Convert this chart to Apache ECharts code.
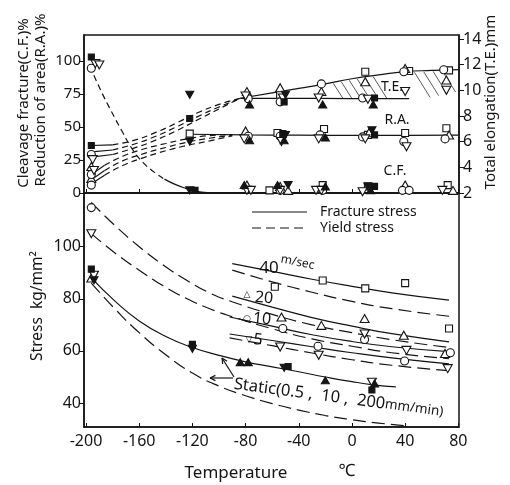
<!DOCTYPE html>
<html>
<head>
<meta charset="utf-8">
<script src="https://cdn.jsdelivr.net/npm/echarts@6/dist/echarts.min.js"></script>
<style>
  html, body { margin: 0; padding: 0; background: #fff; }
  #chart { width: 510px; height: 485px; }
</style>
</head>
<body>
<div id="chart"></div>
<script>
// ---- axis ticks ----
const tempTicks   = [-200, -160, -120, -80, -40, 0, 40, 80];
const pctTicks    = [0, 25, 50, 75, 100];
const mmTicks     = [2, 4, 6, 8, 10, 12, 14];
const stressTicks = [40, 60, 80, 100];

// ---- upper panel: cleavage fracture (%) by marker ----
const cfSq   = [[-62, 2], [-22, 6], [12, 5], [72, 6]];
const cfTri  = [[-79, 6], [-54, 5], [-48, 2], [40, 6], [76, 2]];
const cfCir  = [[-196, 94.5], [-54, 2], [-22, 2], [38, 2], [43, 2]];
const cfInv  = [[-193, 98], [-190, 97], [-79, 2], [-76, 2], [-54, 2], [-27, 2], [-23, 2], [8, 1], [68, 2]];
const cfSqF  = [[-196, 103], [-118, 2], [17, 5]];
const cfTriF = [[-81, 6], [-56, 6], [-20, 5], [14, 2]];
const cfInvF = [[-122, 2], [-48, 6], [12, 5]];

// ---- upper panel: reduction of area (%) by marker ----
const raSq   = [[-122, 45], [-56, 45.5], [-21, 48.5], [12, 44], [40, 45.5], [71, 49]];
const raTri  = [[-196, 20], [-196, 11], [-80, 47], [-22, 43], [13, 46], [73, 44]];
const raCir  = [[-196, 14], [-196, 6], [-78, 43], [-54, 43], [-24, 44], [8, 42.5], [39, 39], [70, 41]];
const raInv  = [[-194, 17], [-81, 41], [-53, 39], [-25, 41], [10, 41], [41, 35]];
const raTriF = [[-77, 40], [-51, 40], [-20, 42]];
const raInvF = [[-122, 39], [-50, 44], [15, 47.5]];
const raSqF  = [[-52, 45], [17, 44]];

// ---- upper panel: total elongation (mm) by marker ----
const teSq   = [[-54, 9.65], [10, 11.45], [43, 11.5], [73, 11.55]];
const teTri  = [[-79, 9.9], [-54, 10.2], [-23, 9.9], [10, 10.67], [40, 11.7], [71, 10.8]];
const teCir  = [[-196, 5.0], [-78, 9.35], [-54, 9.1], [-23, 10.5], [8, 9.4], [39, 11.45], [69, 11.6]];
const teInv  = [[-195, 4.6], [-80, 9.55], [-52, 9.4], [-25, 9.4], [12, 9.3], [40, 9.9], [71, 10.0]];
const teSqF  = [[-196, 5.7], [-122, 7.8], [-51, 9.1], [17, 9.4]];
const teTriF = [[-77, 8.9], [-22, 8.9], [16, 8.9]];
const teInvF = [[-122, 9.65], [-50, 9.65]];

// ---- upper panel curves ----
const cfCurve  = [[-197, 96], [-189, 78], [-181, 62], [-173, 47], [-165, 33], [-157, 23], [-149, 16], [-141, 10.5], [-133, 6.5], [-125, 3.5], [-117, 1.2], [-109, 0.3]];
const raCurve1 = [[-196, 14], [-186, 21], [-172, 28], [-156, 33.5], [-140, 37.5], [-124, 41], [-107, 43.5], [-90, 44.3]];
const raCurve2 = [[-196, 10], [-186, 17], [-172, 24.5], [-156, 30], [-140, 34.5], [-124, 38.5], [-107, 41.5], [-90, 43.8]];
const raCurve3 = [[-196, 7], [-186, 13.5], [-172, 21], [-156, 27], [-140, 32], [-124, 36], [-107, 39.5], [-90, 43.3]];
const raFlat   = [[-122, 44.5], [-80, 44], [-40, 43.8], [0, 43.7], [40, 43.7], [80, 43.8]];
const teCurve1 = [[-196, 5.7], [-180, 5.75], [-164, 6.1], [-148, 6.7], [-132, 7.45], [-116, 8.25], [-100, 8.9], [-84, 9.38]];
const teCurve2 = [[-196, 5.2], [-180, 5.35], [-164, 5.8], [-148, 6.4], [-132, 7.15], [-116, 7.95], [-100, 8.7], [-84, 9.38]];
const teCurve3 = [[-196, 4.8], [-180, 5.0], [-164, 5.5], [-148, 6.1], [-132, 6.85], [-116, 7.7], [-100, 8.55], [-84, 9.38]];
const teUpper  = [[-84, 9.38], [-60, 9.8], [-40, 10.15], [-20, 10.5], [0, 10.9], [20, 11.2], [40, 11.45], [60, 11.55], [80, 11.62]];
const teLower  = [[-84, 9.38], [-50, 9.38], [0, 9.35], [43, 9.35]];
const teHatchLow = [[-20, 9.36], [43, 9.36], [72, 9.95]];
const hatchTemps = [-14, -8, -2, 4, 10, 16, 47, 54, 61, 68];

// ---- lower panel: stress (kg/mm²) by marker ----
const stSq   = [[-58, 84.6], [-22, 87], [10, 84], [40, 86], [73, 68.6]];
const stTri  = [[-196, 88], [-53, 73], [-23, 69.8], [9.5, 72.4], [39, 66], [70, 59]];
const stCir  = [[-196, 115], [-52, 68.6], [-25.5, 61.8], [9.5, 64.4], [39.6, 56.1], [74, 59.3]];
const stInv  = [[-196, 105], [-194, 89], [-54, 61.5], [-25, 58.3], [9.5, 66.5], [41, 60.2], [72, 53.2], [15, 48]];
const stSqF  = [[-196, 91.4], [-120, 62.5], [-48, 54], [15, 45]];
const stTriF = [[-84, 55.7], [-78, 55.7], [-20, 48.7], [17, 47.5]];
const stInvF = [[-194, 87.1], [-120, 60.8], [-51, 53.5]];

// ---- lower panel curves: fracture (solid) and yield (dashed) ----
const frac40 = [[-90, 93.5], [-60, 90.5], [-30, 87.5], [0, 84.8], [30, 82.3], [73, 79.5]];
const yld40  = [[-90, 91], [-60, 86.5], [-30, 82.5], [0, 79], [30, 76.2], [73, 73.3]];
const frac20 = [[-90, 81], [-60, 76.8], [-30, 72.8], [0, 69.5], [30, 66.6], [73, 63.5]];
const yld20  = [[-196, 117], [-178, 108], [-160, 100], [-142, 93], [-124, 87], [-106, 82], [-88, 78.5], [-60, 74], [-30, 70], [0, 67], [30, 64.3], [73, 61.3]];
const frac10 = [[-92, 73], [-60, 69.5], [-30, 66.2], [0, 63.6], [30, 61.6], [73, 59.7]];
const yld10  = [[-196, 105], [-178, 97.5], [-160, 91], [-142, 85], [-124, 80], [-106, 76], [-88, 72.8], [-60, 68.5], [-30, 64.6], [0, 61.8], [30, 59.3], [73, 57]];
const frac5  = [[-92, 66.5], [-60, 64], [-30, 61.6], [0, 59.3], [30, 57.3], [73, 55]];
const yld5   = [[-92, 65], [-60, 62], [-30, 59.2], [0, 56.6], [30, 54.5], [73, 52.4]];
const fracStatic = [[-196, 88], [-178, 79], [-160, 71.5], [-140, 65.5], [-120, 61.3], [-100, 58.3], [-80, 55.8], [-60, 53.9], [-40, 52], [-20, 50], [0, 48.2], [16, 47], [33, 46.2]];
const yldStatic  = [[-196, 86], [-178, 76], [-160, 67], [-140, 58.5], [-120, 51.5], [-100, 46.5], [-80, 42.8], [-60, 39.8], [-40, 37.3], [-20, 35.2], [0, 33.6], [20, 32.3], [40, 31.3]];

// ---- drawing helpers ----
const INK = '#141414';
const FONT = 'Noto Sans, DejaVu Sans, sans-serif';

const markers = {
  sq:   { symbol: 'rect', size: 7, fill: '#fff', rot: 0 },
  sqF:  { symbol: 'rect', size: 6, fill: INK, rot: 0 },
  tri:  { symbol: 'triangle', size: [9, 8], fill: '#fff', rot: 0 },
  triF: { symbol: 'triangle', size: [8, 7], fill: INK, rot: 0 },
  inv:  { symbol: 'triangle', size: [9, 8], fill: '#fff', rot: 180 },
  invF: { symbol: 'triangle', size: [8, 7], fill: INK, rot: 180 },
  cir:  { symbol: 'circle', size: 8, fill: '#fff', rot: 0 }
};

function pts(data, kind, xi, yi) {
  const m = markers[kind];
  return {
    type: 'scatter', xAxisIndex: xi, yAxisIndex: yi, data,
    symbol: m.symbol, symbolSize: m.size, symbolRotate: m.rot,
    itemStyle: { color: m.fill, borderColor: INK, borderWidth: 1.1, opacity: 1 },
    silent: true, z: 5
  };
}

function curve(data, xi, yi, dash, width) {
  return {
    type: 'line', xAxisIndex: xi, yAxisIndex: yi, data,
    smooth: true, symbol: 'none', silent: true,
    lineStyle: { color: INK, width: width || 1.2, type: dash || 'solid' },
    z: 3
  };
}

// solid up to temperature t, dashed after (t must be a point of the curve)
function solidThenDashed(data, t, xi, yi, dash) {
  return [
    curve(data.filter(p => p[0] <= t), xi, yi),
    curve(data.filter(p => p[0] >= t), xi, yi, dash)
  ];
}
function dashedThenSolid(data, t, xi, yi, dash) {
  return [
    curve(data.filter(p => p[0] <= t), xi, yi, dash),
    curve(data.filter(p => p[0] >= t), xi, yi)
  ];
}

function interp(arr, t) {
  if (t <= arr[0][0]) return arr[0][1];
  for (let i = 0; i < arr.length - 1; i++) {
    const [a, va] = arr[i], [b, vb] = arr[i + 1];
    if (t >= a && t <= b) return va + (vb - va) * (t - a) / (b - a);
  }
  return arr[arr.length - 1][1];
}

const shortDash = [6, 4];
const longDash = [13, 6];

const series = [];

// upper panel lines
series.push(...dashedThenSolid(cfCurve, -141, 0, 0, shortDash));
[raCurve1, raCurve2, raCurve3].forEach(c => series.push(...solidThenDashed(c, -186, 0, 0, shortDash)));
series.push(curve(raFlat, 0, 0));
[teCurve1, teCurve2, teCurve3].forEach(c => series.push(...solidThenDashed(c, -180, 0, 1, shortDash)));
series.push(curve(teUpper, 0, 1));
series.push(curve(teLower, 0, 1));

// hatched band between the two elongation lines
series.push({
  type: 'custom', xAxisIndex: 0, yAxisIndex: 1, silent: true, z: 2,
  data: hatchTemps.map(t => [t, interp(teUpper, t)]),
  renderItem(params, api) {
    const t = api.value(0);
    const top = api.coord([t, interp(teUpper, t)]);
    const bot = api.coord([t, interp(teHatchLow, t)]);
    const dx = (bot[1] - top[1]) * 0.6;
    return {
      type: 'line',
      shape: { x1: top[0], y1: top[1] + 1, x2: top[0] + dx, y2: bot[1] },
      style: { stroke: INK, lineWidth: 0.7 }
    };
  }
});

// upper panel markers
const up = [
  [cfSq, 'sq', 0], [cfTri, 'tri', 0], [cfCir, 'cir', 0], [cfInv, 'inv', 0], [cfSqF, 'sqF', 0], [cfTriF, 'triF', 0], [cfInvF, 'invF', 0],
  [raSq, 'sq', 0], [raTri, 'tri', 0], [raCir, 'cir', 0], [raInv, 'inv', 0], [raTriF, 'triF', 0], [raInvF, 'invF', 0], [raSqF, 'sqF', 0],
  [teSq, 'sq', 1], [teTri, 'tri', 1], [teCir, 'cir', 1], [teInv, 'inv', 1], [teSqF, 'sqF', 1], [teTriF, 'triF', 1], [teInvF, 'invF', 1]
];
up.forEach(([d, k, yi]) => series.push(pts(d, k, 0, yi)));

// lower panel lines
[frac40, frac20, frac10, frac5, fracStatic].forEach(c => series.push(curve(c, 1, 2)));
[yld40, yld20, yld10, yld5, yldStatic].forEach(c => series.push(curve(c, 1, 2, longDash)));

// lower panel markers
[[stSq, 'sq'], [stTri, 'tri'], [stCir, 'cir'], [stInv, 'inv'], [stSqF, 'sqF'], [stTriF, 'triF'], [stInvF, 'invF']]
  .forEach(([d, k]) => series.push(pts(d, k, 1, 2)));

const tickLabel = { fontFamily: FONT, fontSize: 15, color: INK };
const frameLine = { show: true, onZero: false, lineStyle: { color: INK, width: 1.5 } };

function xAxis(gridIndex, labels) {
  return {
    type: 'value', gridIndex, min: -201.5, max: 80.5,
    axisLine: frameLine,
    axisTick: { show: true, inside: true, length: 4, customValues: tempTicks, lineStyle: { color: INK } },
    axisLabel: labels ? Object.assign({}, tickLabel, { customValues: tempTicks, margin: 6, fontSize: 16 }) : { show: false },
    splitLine: { show: false }
  };
}

function txt(text, x, y, opts) {
  opts = opts || {};
  const style = {
    text, fill: INK,
    font: (opts.size || 15) + 'px ' + FONT,
    textAlign: opts.align || 'center', textVerticalAlign: 'middle'
  };
  if (opts.rich) style.rich = opts.rich;
  return { type: 'text', x, y, rotation: opts.rot || 0, z: 10, style };
}

function seg(x1, y1, x2, y2, dash) {
  return { type: 'line', z: 10, shape: { x1, y1, x2, y2 }, style: { stroke: INK, lineWidth: 1.2, lineDash: dash || null } };
}

function arrow(x1, y1, x2, y2) {
  const a = Math.atan2(y2 - y1, x2 - x1), h = 6, w = 0.45;
  return [
    seg(x1, y1, x2, y2),
    seg(x2, y2, x2 - h * Math.cos(a - w), y2 - h * Math.sin(a - w)),
    seg(x2, y2, x2 - h * Math.cos(a + w), y2 - h * Math.sin(a + w))
  ];
}

const option = {
  animation: false,
  backgroundColor: '#fff',
  grid: [
    { left: 84, top: 35, width: 375, height: 158, show: true, borderColor: INK, borderWidth: 1.5, backgroundColor: 'transparent' },
    { left: 84, top: 193, width: 375, height: 234, show: true, borderColor: INK, borderWidth: 1.5, backgroundColor: 'transparent' }
  ],
  xAxis: [xAxis(0, false), xAxis(1, true)],
  yAxis: [
    {
      type: 'value', gridIndex: 0, min: 0, max: 119.7,
      axisLine: frameLine,
      axisTick: { show: true, length: 5, customValues: pctTicks, lineStyle: { color: INK } },
      axisLabel: Object.assign({}, tickLabel, { customValues: pctTicks, margin: 3 }),
      splitLine: { show: false }
    },
    {
      type: 'value', gridIndex: 0, position: 'right', min: 2, max: 14.31,
      axisLine: frameLine,
      axisTick: { show: true, length: 5, customValues: mmTicks, lineStyle: { color: INK } },
      axisLabel: Object.assign({}, tickLabel, { customValues: mmTicks, margin: 4, fontSize: 16 }),
      splitLine: { show: false }
    },
    {
      type: 'value', gridIndex: 1, min: 30.8, max: 120.6,
      axisLine: frameLine,
      axisTick: { show: true, length: 5, customValues: stressTicks, lineStyle: { color: INK } },
      axisLabel: Object.assign({}, tickLabel, { customValues: stressTicks, margin: 3, fontSize: 16 }),
      splitLine: { show: false }
    }
  ],
  graphic: [
    // axis titles
    txt('Cleavage fracture(C.F.)%', 24, 103, { rot: Math.PI / 2, size: 15 }),
    txt('Reduction of area(R.A.)%', 41, 100, { rot: Math.PI / 2, size: 15 }),
    txt('Total elongation(T.E.)mm', 491, 102, { rot: Math.PI / 2, size: 15 }),
    txt('Stress  kg/mm²', 38, 306, { rot: Math.PI / 2, size: 15.5 }),
    txt('Temperature', 236, 473, { size: 17 }),
    txt('℃', 347, 471, { size: 17 }),
    // curve group labels, upper panel
    txt('T.E.', 392, 87, { size: 14 }),
    txt('R.A.', 397, 120, { size: 14 }),
    txt('C.F.', 395, 171, { size: 14 }),
    // legend
    seg(252, 212, 307, 212),
    seg(252, 228, 307, 228, [9, 5]),
    txt('Fracture stress', 320, 212, { size: 14, align: 'left' }),
    txt('Yield stress', 320, 228, { size: 14, align: 'left' }),
    // speed labels, lower panel
    txt('40', 269, 268, { size: 17 }),
    txt('m/sec', 281, 259, { size: 12, align: 'left', rot: -0.2 }),
    txt('△', 247, 294, { size: 9 }),
    txt('20', 264, 298, { size: 16, rot: -0.1 }),
    txt('○', 247, 318, { size: 9 }),
    txt('10', 262, 319, { size: 16, rot: -0.1 }),
    txt('▽', 249, 339, { size: 9 }),
    txt('5', 258, 340, { size: 16, rot: -0.1 }),
    txt('Static(0.5 ,  10 ,  200{u|mm/min)}', 234, 384, {
      size: 16.5, align: 'left', rot: -0.133,
      rich: { u: { fontSize: 13.5, fontFamily: FONT, fill: INK } }
    }),
    ...arrow(234, 377, 222, 358),
    ...arrow(233, 378, 210, 378)
  ],
  series
};

const chart = echarts.init(document.getElementById('chart'), null, { renderer: 'canvas' });
chart.setOption(option);
</script>
</body>
</html>
